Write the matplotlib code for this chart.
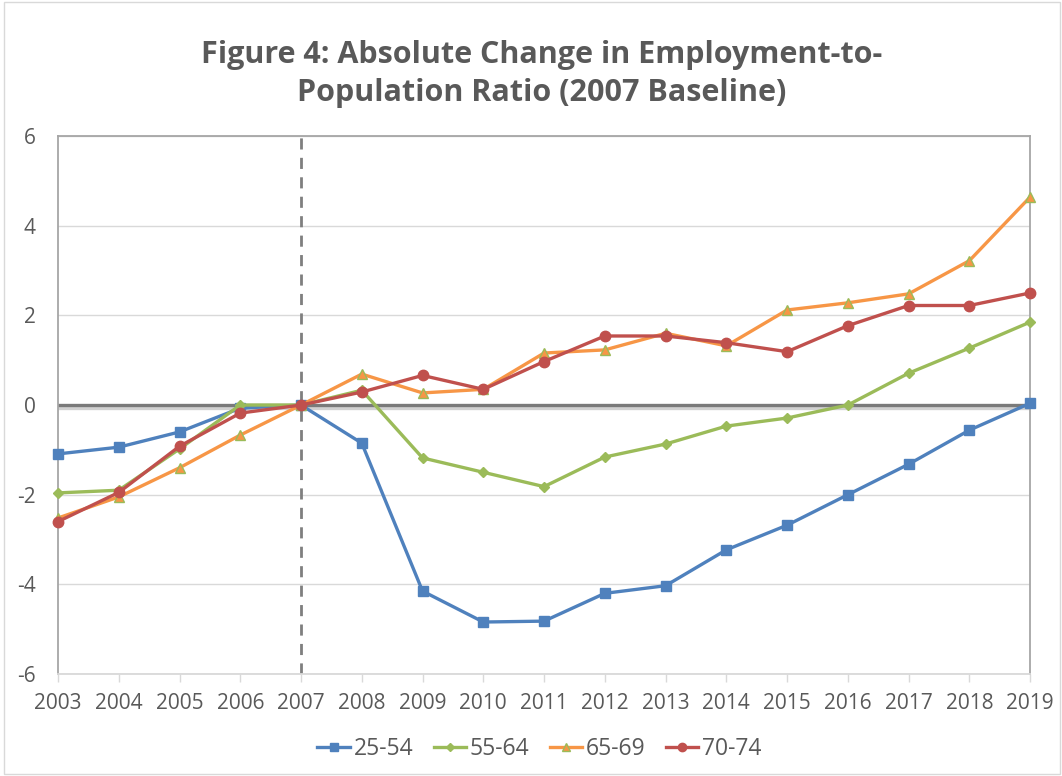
import matplotlib
matplotlib.use("Agg")
import matplotlib.pyplot as plt
import matplotlib.patheffects as pe
from matplotlib.patches import Rectangle

years = list(range(2003, 2020))
series_labels = ["25-54", "55-64", "65-69", "70-74"]
age_25_54 = [-1.09, -0.94, -0.60, -0.07, 0.0, -0.85, -4.15, -4.84, -4.82, -4.20, -4.03, -3.23, -2.68, -2.00, -1.32, -0.56, 0.04]
age_55_64 = [-1.96, -1.90, -0.98, 0.0, 0.0, 0.33, -1.18, -1.50, -1.82, -1.16, -0.87, -0.47, -0.29, 0.0, 0.71, 1.27, 1.85]
age_65_69 = [-2.52, -2.05, -1.40, -0.67, 0.0, 0.69, 0.27, 0.35, 1.16, 1.23, 1.60, 1.32, 2.12, 2.28, 2.48, 3.22, 4.64]
age_70_74 = [-2.60, -1.95, -0.92, -0.18, 0.0, 0.29, 0.66, 0.35, 0.97, 1.54, 1.54, 1.39, 1.19, 1.77, 2.22, 2.22, 2.50]
y_ticks = [-6, -4, -2, 0, 2, 4, 6]
baseline_year = 2007
title = "Figure 4: Absolute Change in Employment-to-\nPopulation Ratio (2007 Baseline)"

plt.rcParams['font.family'] = ['Open Sans', 'DejaVu Sans']
plt.rcParams['axes.unicode_minus'] = False

fig = plt.figure(figsize=(10.62, 7.76), dpi=100)
ax = fig.add_axes([0.0546, 0.1314, 0.9154, 0.6933])

text_col = '#595959'
grid_col = '#D9D9D9'

ax.set_xlim(years[0], years[-1])
ax.set_ylim(-6, 6)
ax.set_yticks(y_ticks)
ax.set_xticks(years)
ax.set_xticklabels([str(y) for y in years])
ax.grid(axis='y', color=grid_col, lw=1)
ax.set_axisbelow(True)

for s in ['left', 'top', 'right']:
    ax.spines[s].set_color('#A6A6A6')
    ax.spines[s].set_linewidth(1.3)
ax.spines['bottom'].set_color(grid_col)
ax.spines['bottom'].set_linewidth(1.3)
ax.tick_params(axis='y', length=0, pad=16, labelsize=15, labelcolor=text_col)
ax.tick_params(axis='x', length=6, width=1, color=grid_col, pad=8, labelsize=15, labelcolor=text_col)

# zero line with shadow
ax.axhline(0, color='#7A7A7A', lw=2.4, zorder=2,
           path_effects=[pe.SimpleLineShadow(offset=(0, -2), shadow_color='#000000', alpha=0.18), pe.Normal()])
# baseline dashed line
ax.axvline(baseline_year, color='#7F7F7F', lw=2, dashes=(4, 3), zorder=2)

colors = ['#4F81BD', '#9BBB59', '#F79646', '#C0504D']
markers = ['s', 'D', '^', 'o']
msizes = [7, 5, 7.5, 7.5]
data = [age_25_54, age_55_64, age_65_69, age_70_74]
edge = ['#4F81BD', '#9BBB59', '#9BBB59', '#C0504D']
lines = []
for vals, c, m, ms, lab, ec in zip(data, colors, markers, msizes, series_labels, edge):
    l, = ax.plot(years, vals, color=c, lw=2.4, marker=m, markersize=ms,
                 markerfacecolor=c, markeredgecolor=ec, markeredgewidth=1, label=lab,
                 zorder=3, clip_on=False)
    lines.append(l)

fig.text(0.51, 0.905, title, ha='center', va='center', fontsize=22, fontweight='bold',
         color=text_col, linespacing=1.35)

leg = fig.legend(handles=lines, loc='center', bbox_to_anchor=(0.508, 0.035), ncol=4,
                 frameon=False, fontsize=16.5, handlelength=1.4, columnspacing=0.9,
                 handletextpad=0.17, markerscale=0.8)
for t in leg.get_texts():
    t.set_color(text_col)

fig.patches.append(Rectangle((0.004, 0.002), 0.994, 0.995, transform=fig.transFigure,
                             fill=False, edgecolor=grid_col, lw=1))

fig.savefig('out.png', dpi=100)
